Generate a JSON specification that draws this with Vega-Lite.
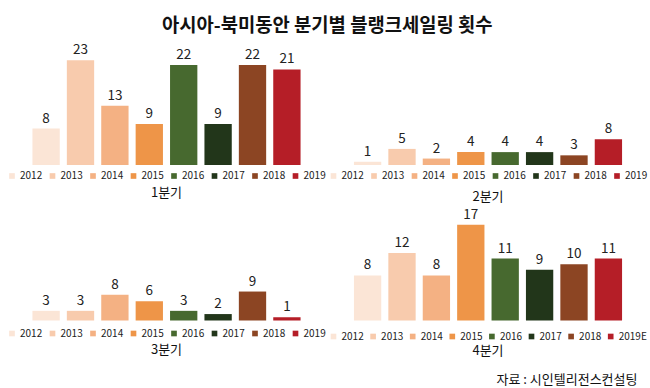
{
  "$schema": "https://vega.github.io/schema/vega-lite/v6.json",
  "padding": {"left": 7, "top": 17, "right": 1, "bottom": 0},
  "config": {
    "font": "Noto Sans CJK KR",
    "view": {"stroke": null},
    "legend": {"layout": {"bottom": {"anchor": "middle"}}}
  },
  "title": {"text": "아시아-북미동안 분기별 블랭크세일링 횟수", "fontSize": 18.8, "fontWeight": "bold", "color": "#111111", "anchor": "middle", "offset": 5},
  "data": {"values": [
    {"q": "1분기", "year": "2012", "v": 8},
    {"q": "1분기", "year": "2013", "v": 23},
    {"q": "1분기", "year": "2014", "v": 13},
    {"q": "1분기", "year": "2015", "v": 9},
    {"q": "1분기", "year": "2016", "v": 22},
    {"q": "1분기", "year": "2017", "v": 9},
    {"q": "1분기", "year": "2018", "v": 22},
    {"q": "1분기", "year": "2019", "v": 21},
    {"q": "2분기", "year": "2012", "v": 1},
    {"q": "2분기", "year": "2013", "v": 5},
    {"q": "2분기", "year": "2014", "v": 2},
    {"q": "2분기", "year": "2015", "v": 4},
    {"q": "2분기", "year": "2016", "v": 4},
    {"q": "2분기", "year": "2017", "v": 4},
    {"q": "2분기", "year": "2018", "v": 3},
    {"q": "2분기", "year": "2019", "v": 8},
    {"q": "3분기", "year": "2012", "v": 3},
    {"q": "3분기", "year": "2013", "v": 3},
    {"q": "3분기", "year": "2014", "v": 8},
    {"q": "3분기", "year": "2015", "v": 6},
    {"q": "3분기", "year": "2016", "v": 3},
    {"q": "3분기", "year": "2017", "v": 2},
    {"q": "3분기", "year": "2018", "v": 9},
    {"q": "3분기", "year": "2019", "v": 1},
    {"q": "4분기", "year": "2012", "v": 8},
    {"q": "4분기", "year": "2013", "v": 12},
    {"q": "4분기", "year": "2014", "v": 8},
    {"q": "4분기", "year": "2015", "v": 17},
    {"q": "4분기", "year": "2016", "v": 11},
    {"q": "4분기", "year": "2017", "v": 9},
    {"q": "4분기", "year": "2018", "v": 10},
    {"q": "4분기", "year": "2019E", "v": 11}
  ]},
  "spacing": 3.5,
  "resolve": {"scale": {"x": "independent", "y": "independent", "color": "independent"}, "legend": {"color": "independent"}},
  "vconcat": [
    {
      "spacing": 2.5,
      "resolve": {"scale": {"x": "independent", "y": "independent", "color": "independent"}, "legend": {"color": "independent"}},
      "hconcat": [
        {
          "width": 275, "height": 124,
          "title": {"text": "1분기", "orient": "bottom", "fontSize": 13, "fontWeight": "normal", "color": "#111111", "offset": 6},
          "transform": [{"filter": "datum.q === '1분기'"}],
          "encoding": {
            "x": {"field": "year", "type": "nominal", "sort": null, "axis": null, "scale": {"paddingInner": 0.206, "paddingOuter": 0.1}},
            "y": {"field": "v", "type": "quantitative", "axis": null, "scale": {"domain": [0, 27.25], "nice": false}}
          },
          "layer": [
            {"mark": {"type": "bar"},
             "encoding": {"color": {"field": "year", "type": "nominal", "sort": null,
               "scale": {"domain": ["2012","2013","2014","2015","2016","2017","2018","2019"], "range": ["#FBE5D6","#F8CBAD","#F4B183","#EE9548","#47692F","#22361A","#8C4523","#B51E27"]},
               "legend": {"orient": "bottom", "direction": "horizontal", "columns": 8, "title": null, "symbolType": "square", "symbolSize": 32, "symbolStrokeWidth": 0, "labelFontSize": 10, "labelColor": "#222222", "labelOffset": 3, "columnPadding": 4.5, "offset": 6}}}},
            {"mark": {"type": "text", "dy": -10, "fontSize": 13.5, "color": "#222222"},
             "encoding": {"text": {"field": "v", "type": "quantitative"}}}
          ]
        },
        {
          "width": 275, "height": 124,
          "title": {"text": "2분기", "orient": "bottom", "fontSize": 13, "fontWeight": "normal", "color": "#111111", "offset": 10},
          "transform": [{"filter": "datum.q === '2분기'"}],
          "encoding": {
            "x": {"field": "year", "type": "nominal", "sort": null, "axis": null, "scale": {"paddingInner": 0.206, "paddingOuter": 0.1}},
            "y": {"field": "v", "type": "quantitative", "axis": null, "scale": {"domain": [0, 38.5], "nice": false}}
          },
          "layer": [
            {"mark": {"type": "bar"},
             "encoding": {"color": {"field": "year", "type": "nominal", "sort": null,
               "scale": {"domain": ["2012","2013","2014","2015","2016","2017","2018","2019"], "range": ["#FBE5D6","#F8CBAD","#F4B183","#EE9548","#47692F","#22361A","#8C4523","#B51E27"]},
               "legend": {"orient": "bottom", "direction": "horizontal", "columns": 8, "title": null, "symbolType": "square", "symbolSize": 32, "symbolStrokeWidth": 0, "labelFontSize": 10, "labelColor": "#222222", "labelOffset": 3, "columnPadding": 4.5, "offset": 6}}}},
            {"mark": {"type": "text", "dy": -10, "fontSize": 13.5, "color": "#222222"},
             "encoding": {"text": {"field": "v", "type": "quantitative"}}}
          ]
        }
      ]
    },
    {
      "spacing": 2.5,
      "title": {"text": "자료 : 시인텔리전스컨설팅", "orient": "bottom", "anchor": "end", "fontSize": 13, "fontWeight": "normal", "color": "#111111", "offset": 16, "dx": -10},
      "resolve": {"scale": {"x": "independent", "y": "independent", "color": "independent"}, "legend": {"color": "independent"}},
      "hconcat": [
        {
          "width": 275, "height": 112,
          "title": {"text": "3분기", "orient": "bottom", "fontSize": 13, "fontWeight": "normal", "color": "#111111", "offset": 5},
          "transform": [{"filter": "datum.q === '3분기'"}],
          "encoding": {
            "x": {"field": "year", "type": "nominal", "sort": null, "axis": null, "scale": {"paddingInner": 0.206, "paddingOuter": 0.1}},
            "y": {"field": "v", "type": "quantitative", "axis": null, "scale": {"domain": [0, 34.8], "nice": false}}
          },
          "layer": [
            {"mark": {"type": "bar"},
             "encoding": {"color": {"field": "year", "type": "nominal", "sort": null,
               "scale": {"domain": ["2012","2013","2014","2015","2016","2017","2018","2019"], "range": ["#FBE5D6","#F8CBAD","#F4B183","#EE9548","#47692F","#22361A","#8C4523","#B51E27"]},
               "legend": {"orient": "bottom", "direction": "horizontal", "columns": 8, "title": null, "symbolType": "square", "symbolSize": 32, "symbolStrokeWidth": 0, "labelFontSize": 10, "labelColor": "#222222", "labelOffset": 3, "columnPadding": 4.5, "offset": 8}}}},
            {"mark": {"type": "text", "dy": -10, "fontSize": 13.5, "color": "#222222"},
             "encoding": {"text": {"field": "v", "type": "quantitative"}}}
          ]
        },
        {
          "width": 275, "height": 112,
          "title": {"text": "4분기", "orient": "bottom", "fontSize": 13, "fontWeight": "normal", "color": "#111111", "offset": 3},
          "transform": [{"filter": "datum.q === '4분기'"}],
          "encoding": {
            "x": {"field": "year", "type": "nominal", "sort": null, "axis": null, "scale": {"paddingInner": 0.206, "paddingOuter": 0.1}},
            "y": {"field": "v", "type": "quantitative", "axis": null, "scale": {"domain": [0, 19.9], "nice": false}}
          },
          "layer": [
            {"mark": {"type": "bar"},
             "encoding": {"color": {"field": "year", "type": "nominal", "sort": null,
               "scale": {"domain": ["2012","2013","2014","2015","2016","2017","2018","2019E"], "range": ["#FBE5D6","#F8CBAD","#F4B183","#EE9548","#47692F","#22361A","#8C4523","#B51E27"]},
               "legend": {"orient": "bottom", "direction": "horizontal", "columns": 8, "title": null, "symbolType": "square", "symbolSize": 32, "symbolStrokeWidth": 0, "labelFontSize": 10, "labelColor": "#222222", "labelOffset": 3, "columnPadding": 3.6, "offset": 11}}}},
            {"mark": {"type": "text", "dy": -10, "fontSize": 13.5, "color": "#222222"},
             "encoding": {"text": {"field": "v", "type": "quantitative"}}}
          ]
        }
      ]
    }
  ]
}
